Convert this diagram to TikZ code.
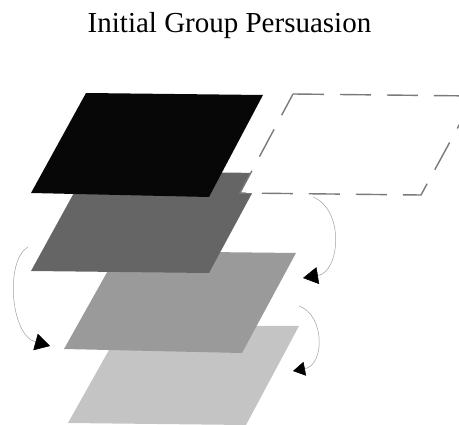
\documentclass[tikz,border=0pt]{standalone}
\usepackage{fontspec}
\setmainfont{Liberation Serif}
\usetikzlibrary{arrows.meta}
\definecolor{layerA}{HTML}{070707}
\definecolor{layerB}{HTML}{646564}
\definecolor{layerC}{HTML}{9A9A9B}
\definecolor{layerD}{HTML}{C4C4C4}
\definecolor{ghostedge}{HTML}{7A7A7A}
\definecolor{curve}{HTML}{A0A0A0}
\tikzset{
  layer/.style={fill=#1, draw=none},
  ghost/.style={fill=white, draw=ghostedge, line width=1.4pt, dash pattern=on 31pt off 16pt},
  flow/.style={draw=curve, line width=0.5pt, -{Triangle[length=15pt,width=17pt,color=black,fill=black]}},
  flowsmall/.style={draw=curve, line width=0.5pt, -{Triangle[length=12pt,width=14pt,color=black,fill=black]}},
  title/.style={font=\fontsize{29}{34}\selectfont, anchor=base, inner sep=0pt}
}
\begin{document}
\begin{tikzpicture}[x=1pt, y=-1pt]
  \useasboundingbox (0,0) rectangle (459,425);
  \clip (0,0) rectangle (459,425);

  \node[title] (heading) at (229.5,33) {Initial Group Persuasion};

  % stacked planes, back to front
  \fill[layer=layerD] (123,325) -- (299,326) -- (246,425) -- (68,423) -- cycle;
  \fill[layer=layerC] (119,251) -- (296,253) -- (242,353) -- (64,349) -- cycle;
  \fill[layer=layerB] (86,171) -- (263,173) -- (209,273) -- (31,271) -- cycle;
  \path[ghost] (293,94) -- (475,96) -- (421,195) -- (240,193) -- cycle;
  \fill[layer=layerA] (86,93) -- (263,95) -- (209,197) -- (31,193) -- cycle;

  % arrow end points
  \coordinate (s1) at (313,197);
  \coordinate (e1) at (303,278);
  \coordinate (s2) at (28,247);
  \coordinate (e2) at (50,346);
  \coordinate (s3) at (299,306);
  \coordinate (e3) at (293,371);

  \draw[flow] (s1) .. controls (345,210) and (340,272) .. (e1);
  \draw[flow] (s2) .. controls (5,260) and (10,335) .. (e2);
  \draw[flowsmall] (s3) .. controls (325,315) and (325,365) .. (e3);
\end{tikzpicture}
\end{document}
